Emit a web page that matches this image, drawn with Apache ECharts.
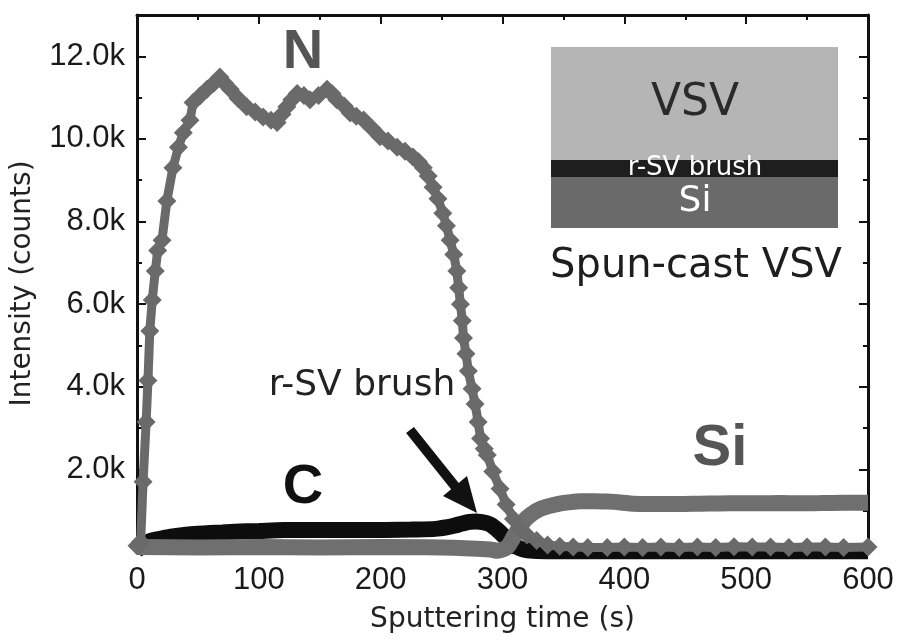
<!DOCTYPE html>
<html>
<head>
<meta charset="utf-8">
<script src="https://cdn.jsdelivr.net/npm/echarts@6/dist/echarts.min.js"></script>
<style>
html,body{margin:0;padding:0;background:#fff;}
#chart{width:901px;height:644px;}
</style>
</head>
<body>
<div id="chart"></div>
<script>
// ---- data ----
var xTicks = [0, 100, 200, 300, 400, 500, 600];
var yTicks = [2000, 4000, 6000, 8000, 10000, 12000];

var nTime = [0, 3, 5, 7.5, 9, 10.5, 12.5, 15, 17, 20.5, 24.5, 29.5, 34, 38, 43.5, 46, 52, 57.5, 63, 68, 72, 76.5, 83, 90, 97, 103.5, 110, 115, 119, 123, 127, 131.5, 137, 142, 149, 156, 160, 164, 170, 175, 180, 186, 193, 199.5, 206, 213.5, 220, 226.5, 231, 235, 239, 243, 247, 251, 254, 257, 260, 262.5, 264, 265.5, 267, 268, 270, 272, 275, 277.5, 280, 282, 285, 287.5, 292, 298, 303, 309, 314, 320, 328, 337, 347, 358, 370, 386, 400, 415, 430, 445, 460, 475, 490, 505, 520, 535, 550, 565, 580, 600];
var nCounts = [150, 250, 1700, 3150, 4150, 5350, 6100, 6800, 7300, 7550, 8500, 9300, 9800, 10150, 10450, 10880, 11050, 11200, 11350, 11500, 11350, 11200, 10980, 10780, 10650, 10530, 10450, 10400, 10600, 10780, 10950, 11100, 11050, 10950, 11050, 11200, 11100, 10950, 10800, 10630, 10550, 10460, 10250, 10050, 9950, 9800, 9700, 9560, 9450, 9300, 9100, 8830, 8550, 8200, 7900, 7550, 7200, 6800, 6400, 6000, 5600, 5180, 4800, 4380, 3950, 3580, 3150, 2750, 2500, 2350, 1950, 1530, 1150, 800, 580, 410, 280, 170, 140, 120, 110, 110, 120, 110, 120, 110, 120, 110, 130, 120, 120, 110, 120, 120, 110, 120];

var cTime = [0, 5, 9, 14, 19, 28, 39, 50, 60, 70, 80, 100, 121, 140, 163, 185, 204, 225, 245, 255, 261, 267, 273, 278, 282, 287, 291, 296, 300, 304, 308, 312, 317, 325, 340, 400, 500, 600];
var cCounts = [60, 150, 240, 290, 320, 370, 415, 440, 460, 475, 490, 510, 530, 535, 535, 530, 535, 545, 560, 600, 640, 690, 730, 740, 730, 700, 650, 530, 420, 300, 200, 120, 60, 30, 20, 20, 20, 20];

var siTime = [0, 50, 100, 150, 200, 250, 290, 296, 300, 304, 307, 310, 313, 316, 319, 323, 327, 331, 338, 345, 354, 364, 375, 386, 397, 407, 420, 429, 445, 462, 478, 495, 510, 528, 545, 561, 580, 600];
var siCounts = [120, 110, 120, 110, 120, 110, 60, 30, 60, 120, 250, 410, 550, 680, 800, 900, 980, 1045, 1110, 1160, 1200, 1230, 1230, 1220, 1200, 1170, 1160, 1160, 1160, 1170, 1175, 1180, 1180, 1185, 1180, 1185, 1190, 1190];

function zip(a, b) { return a.map(function (v, i) { return [v, b[i]]; }); }

var tickFont = 'Liberation Sans';
var nameFont = 'DejaVu Sans';

function xAxisDef(pos, showLabels) {
  return {
    type: 'value', position: pos, min: 0, max: 600, interval: 100,
    axisLine: { show: true, onZero: false, lineStyle: { color: '#111', width: 3 } },
    axisTick: { show: true, inside: true, length: 9, lineStyle: { color: '#111', width: 2 } },
    minorTick: { show: true, splitNumber: 2, length: 5, lineStyle: { color: '#111', width: 2 } },
    splitLine: { show: false },
    axisLabel: showLabels ? {
      show: true, margin: 13, color: '#1a1a1a', fontFamily: tickFont, fontSize: 31,
      formatter: function (v) { return xTicks.indexOf(v) >= 0 ? String(v) : ''; }
    } : { show: false },
    name: showLabels ? 'Sputtering time (s)' : '',
    nameLocation: 'middle', nameGap: 54,
    nameTextStyle: { fontFamily: nameFont, fontSize: 28, color: '#222' }
  };
}
function yAxisDef(pos, showLabels) {
  return {
    type: 'value', position: pos, min: 0, max: 13000, interval: 2000,
    axisLine: { show: true, onZero: false, lineStyle: { color: '#111', width: 3 } },
    axisTick: { show: true, inside: true, length: 9, lineStyle: { color: '#111', width: 2 } },
    minorTick: { show: true, splitNumber: 2, length: 5, lineStyle: { color: '#111', width: 2 } },
    splitLine: { show: false },
    axisLabel: showLabels ? {
      show: true, margin: 12, color: '#1a1a1a', fontFamily: tickFont, fontSize: 31,
      formatter: function (v) { return yTicks.indexOf(v) >= 0 ? (v / 1000).toFixed(1) + 'k' : ''; }
    } : { show: false },
    name: showLabels ? 'Intensity (counts)' : '',
    nameLocation: 'middle', nameGap: 100, nameRotate: 90,
    nameTextStyle: { fontFamily: nameFont, fontSize: 28, color: '#222' }
  };
}

var chart = echarts.init(document.getElementById('chart'), null, { renderer: 'canvas' });

var option = {
  backgroundColor: '#ffffff',
  animation: false,
  grid: { left: 137, right: 33, top: 15, bottom: 92, containLabel: false },
  xAxis: [xAxisDef('bottom', true), xAxisDef('top', false)],
  yAxis: [yAxisDef('left', true), yAxisDef('right', false)],
  series: [
    {
      name: 'C', type: 'line', xAxisIndex: 0, yAxisIndex: 0,
      data: zip(cTime, cCounts), showSymbol: false, smooth: 0.3,
      lineStyle: { color: '#0d0d0d', width: 16 }, itemStyle: { color: '#0d0d0d' }, z: 2
    },
    {
      name: 'Si', type: 'line', xAxisIndex: 0, yAxisIndex: 0,
      data: zip(siTime, siCounts), showSymbol: false, smooth: 0.3,
      lineStyle: { color: '#6f6f6f', width: 16 }, itemStyle: { color: '#6f6f6f' }, z: 3
    },
    {
      name: 'N', type: 'line', xAxisIndex: 0, yAxisIndex: 0,
      data: zip(nTime, nCounts), symbol: 'diamond', symbolSize: 19, showSymbol: true,
      lineStyle: { color: '#6a6a6a', width: 9 }, itemStyle: { color: '#6a6a6a' }, z: 4
    }
  ],
  graphic: [
    // inset layer diagram
    { type: 'rect', shape: { x: 551, y: 47, width: 287, height: 113 }, style: { fill: '#b5b5b5' }, z: 10 },
    { type: 'rect', shape: { x: 551, y: 160, width: 287, height: 17 }, style: { fill: '#1e1e1e' }, z: 10 },
    { type: 'rect', shape: { x: 551, y: 177, width: 287, height: 51 }, style: { fill: '#6a6a6a' }, z: 10 },
    { type: 'text', x: 695, y: 104, style: { text: 'VSV', fontFamily: nameFont, fontSize: 44, fill: '#2a2a2a', align: 'center', verticalAlign: 'middle' }, z: 11 },
    { type: 'text', x: 695, y: 168, style: { text: 'r-SV brush', fontFamily: nameFont, fontSize: 26, fill: '#ffffff', align: 'center', verticalAlign: 'middle' }, z: 11 },
    { type: 'text', x: 695, y: 202, style: { text: 'Si', fontFamily: nameFont, fontSize: 36, fill: '#ffffff', align: 'center', verticalAlign: 'middle' }, z: 11 },
    { type: 'text', x: 696, y: 267, style: { text: 'Spun-cast VSV', fontFamily: nameFont, fontSize: 40, fill: '#1e1e1e', align: 'center', verticalAlign: 'middle' }, z: 11 },
    // series labels
    { type: 'text', x: 303, y: 53, style: { text: 'N', fontFamily: tickFont, fontWeight: 'bold', fontSize: 56, fill: '#555555', align: 'center', verticalAlign: 'middle' }, z: 11 },
    { type: 'text', x: 303, y: 488, style: { text: 'C', fontFamily: tickFont, fontWeight: 'bold', fontSize: 56, fill: '#111111', align: 'center', verticalAlign: 'middle' }, z: 11 },
    { type: 'text', x: 720, y: 449, style: { text: 'Si', fontFamily: tickFont, fontWeight: 'bold', fontSize: 58, fill: '#555555', align: 'center', verticalAlign: 'middle' }, z: 11 },
    { type: 'text', x: 362, y: 386, style: { text: 'r-SV brush', fontFamily: nameFont, fontSize: 36, fill: '#222222', align: 'center', verticalAlign: 'middle' }, z: 11 },
    // arrow
    { type: 'line', shape: { x1: 410, y1: 430, x2: 458, y2: 490 }, style: { stroke: '#111111', lineWidth: 10 }, z: 11 },
    { type: 'polygon', shape: { points: [[477, 513], [443, 496], [467, 476]] }, style: { fill: '#111111' }, z: 11 }
  ]
};
chart.setOption(option);
</script>
</body>
</html>
